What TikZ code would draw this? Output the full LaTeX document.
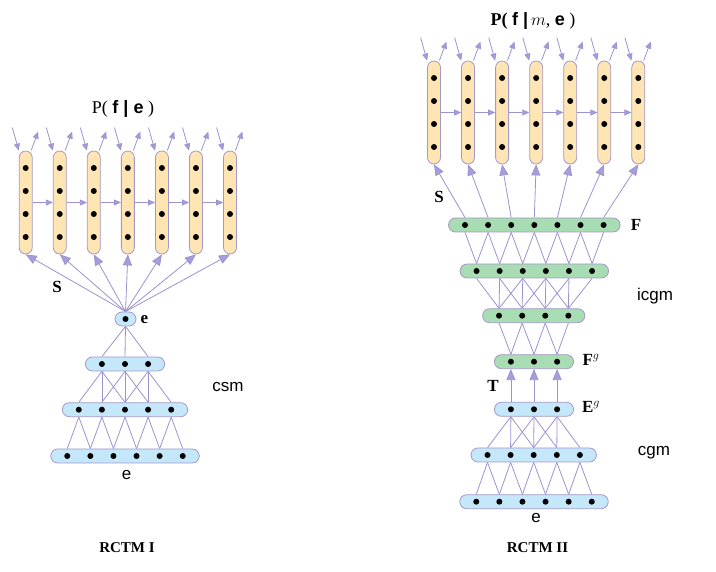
\documentclass[tikz,border=0pt]{standalone}
\usepackage{fontspec}
\setmainfont{Liberation Serif}
\setsansfont{Liberation Sans}
\usetikzlibrary{arrows.meta,backgrounds}

\definecolor{linkcol}{HTML}{9C92CF}
\definecolor{edgecol}{HTML}{A39AC8}
\definecolor{tipcol}{HTML}{A79DDB}
\definecolor{orangefill}{HTML}{FFE5B4}
\definecolor{bluefill}{HTML}{C5E7FA}
\definecolor{greenfill}{HTML}{A8DDB3}

\tikzset{
  dot/.style={circle,fill=black,inner sep=0pt,minimum size=6pt},
  pill/.style={rectangle,rounded corners=7pt,draw=edgecol,line width=0.8pt,minimum height=14pt,inner sep=0pt},
  col/.style={rectangle,rounded corners=6.5pt,draw=edgecol,line width=0.8pt,fill=orangefill,minimum width=13pt,minimum height=103pt,inner sep=0pt},
  link/.style={draw=linkcol,line width=0.8pt},
  big/.style={link,-{Triangle[length=11pt,width=9pt,fill=tipcol]}},
  small/.style={link,-{Triangle[length=7pt,width=6pt,fill=tipcol]}},
  lab/.style={font=\fontsize{17}{19}\selectfont\bfseries},
  sans/.style={font=\fontsize{17}{19}\selectfont\sffamily},
  caption/.style={font=\fontsize{15}{17}\selectfont\bfseries}
}

% one row of dots in a rounded box
\newcommand{\layer}[5]{%
  \node[pill,fill=#5,minimum width={(#2-1)*23.1+33}] (#1) at (#3,#4) {};
  \foreach \i in {1,...,#2}
    \node[dot] (#1-\i) at ({#3+(\i-(#2+1)/2)*23.1},#4) {};
}

% dot i of the small layer to dots i..i+k-1 of the big one, box edge to box edge
\newcommand{\connect}[6]{%
  \begin{pgfonlayer}{background}
  \foreach \i in {1,...,#2}
    \foreach \j in {1,...,#4}{
      \pgfmathtruncatemacro{\k}{\i+\j-1}
      \draw[link] (#1-\i |- #1.#5) -- (#3-\k |- #3.#6);
    }
  \end{pgfonlayer}
}

% seven output columns
\newcommand{\outputs}[3]{%
  \foreach \i in {1,...,7}{
    \node[col] (#1-\i) at ({#2+(\i-1)*34.05},#3) {};
    \foreach \d [count=\k] in {-34.5,-11.5,11.5,34.5}
      \node[dot] (#1-\i-\k) at ({#2+(\i-1)*34.05},{#3+(\d)}) {};
    \draw[small] ([shift={(-6.5,-23)}]#1-\i.north west) -- (#1-\i.north west);
    \draw[small] ([shift={(-1.5,0)}]#1-\i.north east) -- ([shift={(5.5,-19)}]#1-\i.north east);
  }
  \foreach \i [count=\j from 2] in {1,...,6}
    \draw[small] (#1-\i.east) -- (#1-\j.west);
}

\begin{document}
\begin{tikzpicture}[x=1pt,y=-1pt]
\useasboundingbox (0,0) rectangle (716,572);

% RCTM I
\outputs{LC}{25.7}{202.5}
\node[pill,fill=bluefill,minimum width=21pt] (E0) at (125.5,319) {};
\node[dot] (E0-1) at (125.5,319) {};
\layer{L3}{3}{125}{364}{bluefill}
\layer{L2}{5}{125}{409.7}{bluefill}
\layer{L1}{6}{125}{456}{bluefill}
\connect{E0}{1}{L3}{3}{south}{north}
\connect{L3}{3}{L2}{3}{south}{north}
\connect{L2}{5}{L1}{2}{south}{north}
\begin{pgfonlayer}{background}
\foreach \i in {1,...,7}
  \draw[big] (E0-1 |- E0.north) -- (LC-\i.south);
\end{pgfonlayer}

\node (titleL) at (123,109) {\fontsize{18}{20}\selectfont P( \textsf{\bfseries f | e} )};
\node[lab] (eSmall) at (144.5,320) {e};
\node[lab] (sL) at (57,287) {S};
\node[sans] (csm) at (228,387) {csm};
\node[sans] (eL) at (126.5,475) {e};
\node[caption] (rctmI) at (127,548) {RCTM I};

% RCTM II
\outputs{RC}{434}{112.5}
\layer{F}{7}{534.3}{225}{greenfill}
\layer{I1}{6}{534.3}{271}{greenfill}
\layer{I2}{4}{533.7}{315.7}{greenfill}
\layer{Fg}{3}{534}{361.7}{greenfill}
\layer{Eg}{3}{534}{409.3}{bluefill}
\layer{C2}{5}{533.7}{455}{bluefill}
\layer{C1}{6}{534}{501.7}{bluefill}
\connect{I1}{6}{F}{2}{north}{south}
\connect{I2}{4}{I1}{3}{north}{south}
\connect{Fg}{3}{I2}{2}{north}{south}
\connect{Eg}{3}{C2}{3}{south}{north}
\connect{C2}{5}{C1}{2}{south}{north}
\begin{pgfonlayer}{background}
\foreach \i in {1,...,7}
  \draw[big] (F-\i |- F.north) -- (RC-\i.south);
\foreach \i in {1,...,3}
  \draw[big] (Eg-\i |- Eg.north) -- (Fg-\i |- Fg.south);
\end{pgfonlayer}

\node (titleR) at (533,21) {\fontsize{18}{20}\selectfont\textbf{P(} \textsf{\bfseries f |}\,$m$, \textsf{\bfseries e} )};
\node[lab] (sR) at (439,197) {S};
\node[lab] (fR) at (636,225) {F};
\node[sans] (icgm) at (655,296) {icgm};
\node[lab] (fg) at (591,360) {F$^{\scriptstyle g}$};
\node[lab] (tR) at (493,386) {T};
\node[lab] (eg) at (591,407) {E$^{\scriptstyle g}$};
\node[sans] (cgm) at (654,453) {cgm};
\node[sans] (eR) at (536,518) {e};
\node[caption] (rctmII) at (537.5,548) {RCTM II};
\end{tikzpicture}
\end{document}
